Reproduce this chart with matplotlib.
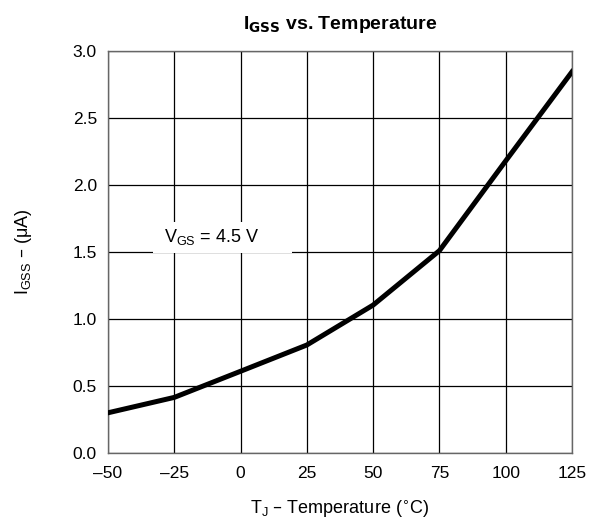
import matplotlib.pyplot as plt
from matplotlib.patches import Rectangle

plt.rcParams['font.family'] = ['Liberation Sans', 'DejaVu Sans']

# Gate leakage vs junction temperature
temp_c = [-50, -25, 0, 25, 50, 75, 100, 125]
igss_ua = [0.30, 0.415, 0.61, 0.806, 1.104, 1.51, 2.18, 2.845]

xticks = [-50, -25, 0, 25, 50, 75, 100, 125]
xtick_labels = ['\u201350', '\u201325', '0', '25', '50', '75', '100', '125']
yticks = [0.0, 0.5, 1.0, 1.5, 2.0, 2.5, 3.0]

fig = plt.figure(figsize=(5.89, 5.25), dpi=100)
ax = fig.add_axes([108/589, 1 - 453/525, 464/589, 402/525])

ax.set_xlim(-50, 125)
ax.set_ylim(0, 3.0)
ax.set_xticks(xticks)
ax.set_xticklabels(xtick_labels)
ax.set_yticks(yticks)
ax.set_yticklabels([f'{v:.1f}' for v in yticks])
ax.tick_params(length=0, labelsize=12.5)
ax.tick_params(axis='x', pad=9)
ax.tick_params(axis='y', pad=8)
ax.grid(True, color='black', linewidth=0.9)
for s in ax.spines.values():
    s.set_color('#666666')
    s.set_linewidth(1.0)

ax.plot(temp_c, igss_ua, color='black', linewidth=3.6, solid_joinstyle='miter', zorder=4)

# white patch behind the condition label (hides the grid around it)
ax.add_patch(Rectangle((-33, 1.49), 52.4, 0.235, facecolor='white',
                       edgecolor='none', zorder=3))
ax.text(-11, 1.615, r'V$_{\mathregular{GS}}$ = 4.5 V', fontsize=13,
        ha='center', va='center', zorder=5)

ax.set_title(r'I$_{\mathbf{GSS}}$ vs. Temperature', fontsize=14,
             fontweight='bold', pad=16)
ax.set_xlabel('T$_{\\mathregular{J}}$ \u2013 Temperature ($^{\\circ}$C)',
              fontsize=13, labelpad=13)
ax.set_ylabel('I$_{\\mathregular{GSS}}$ \u2013 (\u03bcA)', fontsize=13, labelpad=28)

fig.savefig('out.png', dpi=100)
